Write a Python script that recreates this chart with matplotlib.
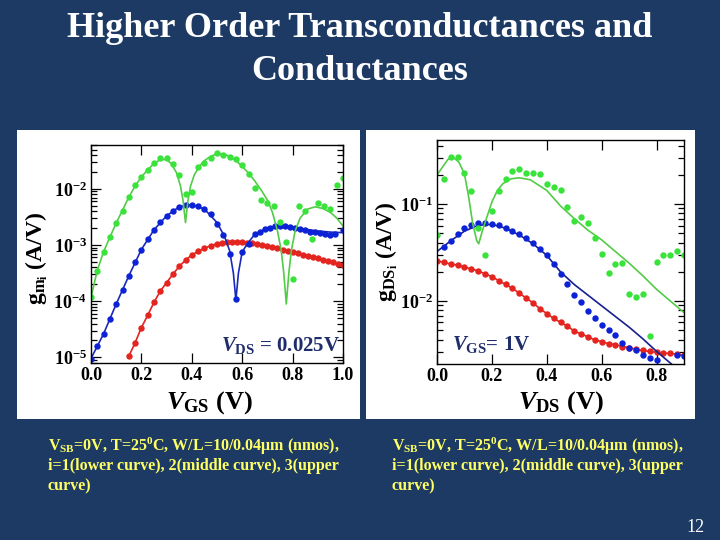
import numpy as np
import matplotlib
matplotlib.use('Agg')
import matplotlib.pyplot as plt
from matplotlib.patches import Rectangle
from matplotlib.ticker import LogLocator, FixedLocator, FuncFormatter, NullFormatter

plt.rcParams['font.family'] = ['Liberation Serif', 'DejaVu Serif']
plt.rcParams['font.weight'] = 'bold'
plt.rcParams['axes.labelweight'] = 'bold'
plt.rcParams['mathtext.fontset'] = 'custom'
plt.rcParams['mathtext.rm'] = 'Liberation Serif:bold'
plt.rcParams['mathtext.it'] = 'Liberation Serif:italic:bold'
plt.rcParams['mathtext.bf'] = 'Liberation Serif:bold'

BG = '#1c3a64'
RED = '#e3241f'
BLUE_DOT = '#0c22d6'
BLUE_LINE = '#1a2ab8'
BLUE_LINE_R = '#18208f'
GREEN_DOT = '#3ae23c'
GREEN_LINE = '#52cc46'

# ---- left panel: g_mi vs VGS (VDS = 0.025V), values stored as log10 ----
gm_red_x = [0.15, 0.175, 0.2, 0.225, 0.25, 0.275, 0.3, 0.325, 0.35, 0.375, 0.4, 0.425,
            0.45, 0.475, 0.5, 0.52, 0.54, 0.56, 0.58, 0.6, 0.62, 0.64, 0.66, 0.68, 0.7,
            0.72, 0.74, 0.76, 0.78, 0.8, 0.82, 0.84, 0.86, 0.88, 0.9, 0.92, 0.94, 0.96,
            0.98, 1.0]
gm_red_log = [-4.98, -4.74, -4.47, -4.25, -4.02, -3.82, -3.67, -3.52, -3.38, -3.27, -3.18,
              -3.11, -3.06, -3.01, -2.98, -2.96, -2.95, -2.95, -2.95, -2.95, -2.96, -2.97,
              -2.98, -3.00, -3.02, -3.04, -3.06, -3.08, -3.10, -3.12, -3.14, -3.17, -3.19,
              -3.22, -3.24, -3.27, -3.29, -3.31, -3.34, -3.36]

gm_blue_x = [0.0, 0.025, 0.05, 0.075, 0.1, 0.125, 0.15, 0.175, 0.2, 0.225, 0.25, 0.275,
             0.3, 0.325, 0.35, 0.375, 0.4, 0.425, 0.45, 0.475, 0.5, 0.525, 0.55, 0.575,
             0.6, 0.625, 0.65, 0.67, 0.69, 0.71, 0.73, 0.75, 0.77, 0.79, 0.81, 0.83, 0.85,
             0.87, 0.89, 0.91, 0.93, 0.95, 0.97, 1.0]
gm_blue_log = [-5.02, -4.80, -4.59, -4.32, -4.05, -3.80, -3.55, -3.31, -3.08, -2.89, -2.73,
               -2.59, -2.48, -2.39, -2.32, -2.29, -2.28, -2.31, -2.36, -2.45, -2.62, -2.83,
               -3.16, -3.96, -3.12, -2.98, -2.81, -2.76, -2.72, -2.69, -2.66, -2.66, -2.67,
               -2.68, -2.70, -2.71, -2.73, -2.76, -2.77, -2.79, -2.81, -2.83, -2.80, -2.74]
gm_blue_line_x = [0.0, 0.05, 0.1, 0.15, 0.2, 0.25, 0.3, 0.35, 0.4, 0.45, 0.5, 0.53, 0.55,
                  0.565, 0.575, 0.585, 0.6, 0.625, 0.65, 0.7, 0.75, 0.8, 0.85, 0.9, 0.95, 1.0]
gm_blue_line_log = [-5.02, -4.58, -4.05, -3.55, -3.08, -2.73, -2.48, -2.32, -2.28, -2.36,
                    -2.60, -2.85, -3.10, -3.50, -3.98, -3.50, -3.12, -2.95, -2.81, -2.69,
                    -2.66, -2.68, -2.72, -2.75, -2.77, -2.78]

gm_green_x = [0.0, 0.025, 0.05, 0.075, 0.1, 0.125, 0.15, 0.175, 0.2, 0.225, 0.25, 0.275,
              0.3, 0.325, 0.35, 0.375, 0.4, 0.425, 0.45, 0.475, 0.5, 0.525, 0.55, 0.575,
              0.6, 0.625, 0.65, 0.675, 0.7, 0.725, 0.75, 0.775, 0.8, 0.825, 0.85, 0.875,
              0.9, 0.925, 0.95, 0.975, 1.0]
gm_green_log = [-3.93, -3.46, -3.13, -2.86, -2.61, -2.39, -2.14, -1.94, -1.79, -1.66, -1.54,
                -1.46, -1.46, -1.55, -1.76, -2.09, -2.06, -1.61, -1.54, -1.46, -1.36, -1.39,
                -1.43, -1.47, -1.58, -1.73, -1.98, -2.20, -2.25, -2.30, -2.59, -2.95, -3.60,
                -2.30, -2.40, -2.89, -2.26, -2.30, -2.36, -1.93, -1.80]
gm_green_line_x = [0.0, 0.025, 0.05, 0.075, 0.1, 0.125, 0.15, 0.175, 0.2, 0.225, 0.25, 0.275,
                   0.3, 0.32, 0.34, 0.355, 0.365, 0.375, 0.385, 0.395, 0.41, 0.43, 0.45, 0.475,
                   0.5, 0.525, 0.55, 0.575, 0.6, 0.625, 0.65, 0.675, 0.7, 0.72, 0.74, 0.755,
                   0.765, 0.775, 0.785, 0.795, 0.81, 0.83, 0.86, 0.89, 0.92, 0.95, 0.975, 1.0]
gm_green_line_log = [-3.93, -3.45, -3.12, -2.86, -2.61, -2.38, -2.15, -1.95, -1.79, -1.66,
                     -1.55, -1.48, -1.48, -1.56, -1.72, -1.95, -2.20, -2.60, -2.20, -1.95,
                     -1.75, -1.60, -1.50, -1.42, -1.38, -1.38, -1.42, -1.50, -1.60, -1.72,
                     -1.86, -2.02, -2.20, -2.42, -2.75, -3.10, -3.50, -4.05, -3.50, -3.10,
                     -2.75, -2.52, -2.36, -2.32, -2.35, -2.42, -2.52, -2.66]

# ---- right panel: g_DSi vs VDS (VGS = 1V), values stored as log10 ----
gds_red_x = [0.0, 0.025, 0.05, 0.075, 0.1, 0.125, 0.15, 0.175, 0.2, 0.225, 0.25, 0.275, 0.3,
             0.325, 0.35, 0.375, 0.4, 0.425, 0.45, 0.475, 0.5, 0.525, 0.55, 0.575, 0.6,
             0.625, 0.65, 0.675, 0.7, 0.725, 0.75, 0.775, 0.8, 0.825, 0.85, 0.875, 0.9]
gds_red_log = [-1.59, -1.60, -1.62, -1.63, -1.65, -1.67, -1.69, -1.72, -1.75, -1.79, -1.83,
               -1.87, -1.92, -1.97, -2.02, -2.08, -2.13, -2.18, -2.22, -2.26, -2.31, -2.34,
               -2.37, -2.40, -2.42, -2.44, -2.45, -2.47, -2.48, -2.50, -2.51, -2.52, -2.53,
               -2.54, -2.54, -2.55, -2.56]

gds_blue_x = [0.025, 0.05, 0.075, 0.1, 0.125, 0.15, 0.175, 0.2, 0.225, 0.25, 0.275, 0.3,
              0.325, 0.35, 0.375, 0.4, 0.425, 0.45, 0.475, 0.5, 0.525, 0.55, 0.575, 0.6,
              0.625, 0.65, 0.675, 0.7, 0.725, 0.75, 0.775, 0.8, 0.825, 0.85, 0.875, 0.9]
gds_blue_log = [-1.44, -1.38, -1.31, -1.25, -1.22, -1.20, -1.20, -1.21, -1.22, -1.25, -1.28,
                -1.31, -1.35, -1.40, -1.46, -1.53, -1.62, -1.72, -1.83, -1.94, -2.01, -2.10,
                -2.18, -2.25, -2.30, -2.35, -2.43, -2.48, -2.51, -2.56, -2.59, -2.61, -2.75,
                -2.75, -2.56, -2.57]
gds_blue_line_x = [0.0, 0.05, 0.1, 0.15, 0.2, 0.25, 0.3, 0.35, 0.4, 0.45, 0.5, 0.55, 0.6,
                   0.65, 0.7, 0.75, 0.8, 0.85, 0.9]
gds_blue_line_log = [-1.49, -1.38, -1.28, -1.22, -1.21, -1.25, -1.32, -1.41, -1.53, -1.70,
                     -1.83, -1.94, -2.05, -2.16, -2.27, -2.39, -2.52, -2.64, -2.76]

gds_green_x = [0.0, 0.025, 0.05, 0.075, 0.1, 0.125, 0.15, 0.175, 0.2, 0.225, 0.25, 0.275,
               0.3, 0.325, 0.35, 0.375, 0.4, 0.425, 0.45, 0.475, 0.5, 0.525, 0.55, 0.575,
               0.6, 0.625, 0.65, 0.675, 0.7, 0.725, 0.75, 0.775, 0.8, 0.825, 0.85, 0.875, 0.9]
gds_green_log = [-1.32, -0.745, -0.52, -0.52, -0.68, -0.87, -1.25, -1.53, -1.07, -0.87, -0.74,
                 -0.66, -0.64, -0.68, -0.68, -0.69, -0.79, -0.82, -0.86, -1.03, -1.18, -1.13,
                 -1.20, -1.35, -1.52, -1.71, -1.62, -1.61, -1.93, -1.96, -1.93, -2.36, -1.60,
                 -1.53, -1.53, -1.48, -1.53]
gds_green_line_x = [0.0, 0.02, 0.04, 0.06, 0.08, 0.1, 0.115, 0.13, 0.145, 0.152, 0.165, 0.18,
                    0.2, 0.22, 0.24, 0.27, 0.3, 0.34, 0.4, 0.45, 0.5, 0.55, 0.6, 0.65, 0.7,
                    0.75, 0.8, 0.85, 0.9]
gds_green_line_log = [-0.70, -0.62, -0.54, -0.52, -0.57, -0.69, -0.92, -1.20, -1.38, -1.41,
                      -1.28, -1.15, -0.98, -0.86, -0.79, -0.74, -0.73, -0.75, -0.86, -1.02,
                      -1.15, -1.27, -1.37, -1.49, -1.61, -1.74, -1.88, -2.00, -2.12]

TITLE_LINES = ['Higher Order Transconductances and', 'Conductances']
CAPTION_LINES = [r'V$_{\mathrm{SB}}$=0V, T=25$^{\mathrm{0}}$C, W/L=10/0.04μm (nmos),',
                 'i=1(lower curve), 2(middle curve), 3(upper',
                 'curve)']

W, H = 720, 540
fig = plt.figure(figsize=(7.2, 5.4), dpi=100, facecolor=BG)

# white panels behind the two plots
for x0, x1 in [(17, 360), (366, 695)]:
    fig.patches.append(Rectangle((x0 / W, 1 - 419 / H), (x1 - x0) / W, 289 / H,
                                 transform=fig.transFigure, facecolor='white',
                                 edgecolor='none', zorder=-10))

fig.text(0.5, 1 - 37 / H, TITLE_LINES[0], color='white', fontsize=26, ha='center', va='baseline')
fig.text(0.5, 1 - 80 / H, TITLE_LINES[1], color='white', fontsize=26, ha='center', va='baseline')

ax1 = fig.add_axes([91 / W, 1 - 363 / H, 252 / W, 218 / H])
ax2 = fig.add_axes([437 / W, 1 - 364 / H, 247 / W, 224 / H])

def p(v):
    return 10 ** np.array(v)

ms = 4.6
# left
ax1.plot(gm_red_x, p(gm_red_log), color=RED, lw=1.2)
ax1.plot(gm_red_x, p(gm_red_log), 'o', color=RED, ms=ms, mec='none')
ax1.plot(gm_blue_line_x, p(gm_blue_line_log), color=BLUE_LINE, lw=1.2)
ax1.plot(gm_blue_x, p(gm_blue_log), 'o', color=BLUE_DOT, ms=ms, mec='none')
ax1.plot(gm_green_line_x, p(gm_green_line_log), color=GREEN_LINE, lw=1.2)
ax1.plot(gm_green_x, p(gm_green_log), 'o', color=GREEN_DOT, ms=ms, mec='none')
# right
ax2.plot(gds_red_x, p(gds_red_log), color=RED, lw=1.2)
ax2.plot(gds_red_x, p(gds_red_log), 'o', color=RED, ms=ms, mec='none')
ax2.plot(gds_blue_line_x, p(gds_blue_line_log), color=BLUE_LINE_R, lw=1.2)
ax2.plot(gds_blue_x, p(gds_blue_log), 'o', color=BLUE_DOT, ms=ms, mec='none')
ax2.plot(gds_green_line_x, p(gds_green_line_log), color=GREEN_LINE, lw=1.2)
ax2.plot(gds_green_x, p(gds_green_log), 'o', color=GREEN_DOT, ms=ms, mec='none')

ax1.set_xlim(0, 1.0)
ax1.set_ylim(10 ** -5.1, 10 ** -1.22)
ax2.set_xlim(0, 0.9)
ax2.set_ylim(10 ** -2.65, 10 ** -0.34)

dec_fmt = FuncFormatter(lambda v, pos: r'$10^{%d}$' % round(np.log10(v)))
for ax, xt in [(ax1, [0, 0.2, 0.4, 0.6, 0.8, 1.0]), (ax2, [0, 0.2, 0.4, 0.6, 0.8])]:
    ax.set_yscale('log')
    ax.set_facecolor('white')
    ax.xaxis.set_major_locator(FixedLocator(xt))
    ax.xaxis.set_major_formatter(FuncFormatter(lambda v, pos: '%.1f' % v))
    ax.yaxis.set_major_locator(LogLocator(base=10))
    ax.yaxis.set_minor_locator(LogLocator(base=10, subs=range(2, 10)))
    ax.yaxis.set_major_formatter(dec_fmt)
    ax.yaxis.set_minor_formatter(NullFormatter())
    ax.tick_params(which='both', direction='in', top=True, right=True, width=0.9, colors='black')
    ax.tick_params(which='major', length=7, labelsize=13, pad=3)
    ax.tick_params(which='minor', length=4)
    for s in ax.spines.values():
        s.set_linewidth(1.0)

ax1.set_xlabel(r'$V_{\mathrm{GS}}$ (V)', fontsize=19)
ax1.xaxis.set_label_coords(0.47, -0.18)
ax1.xaxis.label.set_va('center')
ax1.set_ylabel(r'$\mathrm{g}_{\mathrm{m}_{\mathrm{i}}}$ (A/V)', fontsize=17)
ax1.yaxis.set_label_coords(-0.215, 0.48)
ax1.yaxis.label.set_va('center')

ax2.set_xlabel(r'$V_{\mathrm{DS}}$ (V)', fontsize=19)
ax2.xaxis.set_label_coords(0.5, -0.17)
ax2.xaxis.label.set_va('center')
ax2.set_ylabel(r'$\mathrm{g}_{\mathrm{DS}_{\mathrm{i}}}$ (A/V)', fontsize=17)
ax2.yaxis.set_label_coords(-0.205, 0.5)
ax2.yaxis.label.set_va('center')

ax1.text(0.99, 0.08, r'$V_{\mathrm{DS}}$ = 0.025V', transform=ax1.transAxes, color='#1f2d6b',
         fontsize=15, ha='right', va='center')
ax2.text(0.06, 0.085, r'$V_{\mathrm{GS}}$= 1V', transform=ax2.transAxes, color='#1f2d6b',
         fontsize=15, ha='left', va='center')

for x0 in [48, 392]:
    for i, line in enumerate(CAPTION_LINES):
        fig.text(x0 / W, 1 - (446 + 20 * i) / H, line, color='#ffff66', fontsize=11.5,
                 ha='left', va='center')

fig.text(695 / W, 1 - 527 / H, '12', color='white', fontsize=13, fontweight='normal',
         ha='center', va='center')

fig.savefig('out.png', dpi=100, facecolor=BG)
